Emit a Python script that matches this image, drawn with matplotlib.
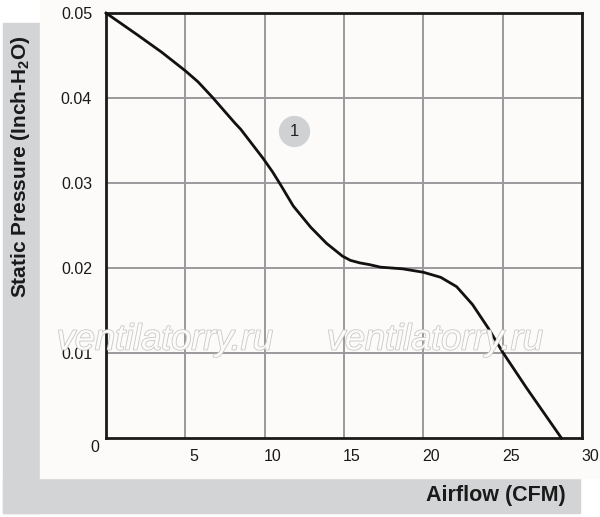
import numpy as np
import matplotlib
matplotlib.use("Agg")
import matplotlib.pyplot as plt
from matplotlib.patches import Rectangle
from matplotlib.transforms import ScaledTranslation
import matplotlib.patheffects as pe

plt.rcParams['font.family'] = ['Liberation Sans', 'DejaVu Sans']

# curve: airflow (CFM) vs static pressure (inch H2O)
airflow = [0, 2.0, 3.5, 5.0, 5.8, 6.7, 8.1, 8.5, 9.9, 10.5, 11.0, 11.8,
           12.9, 13.9, 14.9, 15.4, 16.0, 16.6, 17.3, 18.7, 20.0, 21.1, 22.1,
           23.1, 23.6, 24.1, 25.0, 26.5, 28.7]
pressure = [0.05, 0.0474, 0.0454, 0.0432, 0.0419, 0.0401, 0.0371, 0.0363,
            0.0329, 0.0313, 0.0298, 0.0273, 0.0248, 0.0229, 0.0214, 0.0209,
            0.0206, 0.0204, 0.0201, 0.0199, 0.0195, 0.0189, 0.0178, 0.0157,
            0.0143, 0.0129, 0.0101, 0.0059, 0.0]

x_ticks = [5, 10, 15, 20, 25, 30]
y_ticks = [0.01, 0.02, 0.03, 0.04, 0.05]
y_labels = ['0.01', '0.02', '0.03', '0.04', '0.05']
curve_label = '1'
label_pos = (11.85, 0.0361)
watermark = 'ventilatorry.ru'

W, H = 600, 517
fig = plt.figure(figsize=(W / 100, H / 100), dpi=100)
fig.patch.set_facecolor('white')

band = '#d3d4d6'
# L-shaped grey band on left and bottom
fig.patches.append(Rectangle((3 / W, (H - 513) / H), 37 / W, 490 / H,
                             transform=fig.transFigure, color=band, zorder=-10))
fig.patches.append(Rectangle((3 / W, (H - 513) / H), 577 / W, 35 / H,
                             transform=fig.transFigure, color=band, zorder=-10))
# off-white panel
fig.patches.append(Rectangle((40 / W, (H - 478) / H), 560 / W, 478 / H,
                             transform=fig.transFigure, color='#fcfbfa', zorder=-10))

ax = fig.add_axes([106 / W, (H - 438) / H, 476 / W, 425 / H])
ax.set_facecolor('none')
ax.set_xlim(0, 30)
ax.set_ylim(0, 0.05)

ax.grid(True, color='#9a9a9c', linewidth=1.4)
ax.set_axisbelow(True)
for s in ax.spines.values():
    s.set_linewidth(2)
    s.set_color('#1a1a1a')

ax.plot(airflow, pressure, color='#111111', linewidth=2, solid_joinstyle='round',
        zorder=3, clip_on=False)

ax.set_xticks(x_ticks)
ax.set_yticks(y_ticks)
ax.set_yticklabels(y_labels)
ax.tick_params(length=0, labelsize=11.5, colors='#1a1a1a')
ax.tick_params(axis='x', pad=8)
ax.tick_params(axis='y', pad=10)
shift = ScaledTranslation(8 / 100, 0, fig.dpi_scale_trans)
for lab in ax.get_xticklabels():
    lab.set_transform(lab.get_transform() + shift)
fig.text(95 / W, (H - 447) / H, '0', fontsize=11.5, color='#1a1a1a',
         ha='center', va='center')

# curve number badge
ax.plot([label_pos[0]], [label_pos[1]], marker='o', markersize=22.5,
        color='#d0d1d3', markeredgewidth=0, zorder=2)
ax.text(label_pos[0], label_pos[1], curve_label, ha='center', va='center',
        fontsize=12, color='#222222', zorder=4)

# axis titles sitting on the grey band
fig.text(21 / W, (H - 167) / H, 'Static Pressure (Inch-H$_\\mathregular{2}$O)',
         rotation=90, ha='center', va='center', fontsize=15,
         fontweight='bold', color='#1a1a1a')
fig.text(566 / W, (H - 496) / H, 'Airflow (CFM)', ha='right', va='center',
         fontsize=15.5, fontweight='bold', color='#1a1a1a')

# hollow watermark text
for wx in (165, 435):
    fig.text(wx / W, (H - 340) / H, watermark, ha='center', va='center',
             fontsize=26, style='italic', color='#fcfbfa', zorder=5,
             path_effects=[pe.Stroke(linewidth=1.2, foreground='#c8c8c8'),
                           pe.Normal()])

fig.savefig('out.png', dpi=100)
